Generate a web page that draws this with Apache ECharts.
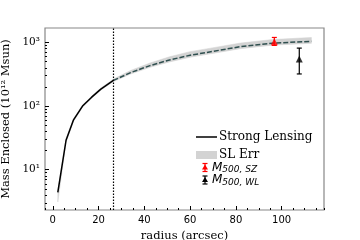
<!DOCTYPE html>
<html><head><meta charset="utf-8">
<script src="https://cdn.jsdelivr.net/npm/echarts@6/dist/echarts.min.js"></script>
<style>html,body{margin:0;padding:0;background:#fff}#c{width:360px;height:240px}</style>
</head><body><div id="c"></div>
<script>
// Strong lensing profile (inside the Einstein radius: solid)
const rInner = [2.2, 5.8, 9.0, 13.0, 17.0, 21.0, 26.5];
const mInner = [4.4, 29, 60, 100, 138, 185, 253];
// Extrapolated profile (dashed)
const rOuter = [26.5, 34, 42.5, 51, 60, 69, 82, 96, 113];
const mOuter = [253, 336, 433, 532, 630, 715, 860, 975, 1045];
// SL error band
const rBand    = [2.2, 5.8, 9.0, 13.0, 17.0, 21.0, 26.5, 34, 42.5, 51, 60, 69, 82, 96, 113];
const bandLow  = [3.1, 27, 57, 96, 133, 178, 243, 319, 407, 495, 586, 665, 800, 907, 972];
const bandHigh = [4.7, 31, 63, 104, 144, 193, 266, 363, 476, 596, 718, 815, 980, 1112, 1200];
// Einstein radius marker
const einsteinR = 26.5;
// M500 SZ: [radius, mass, low, high]
const szPoint = [96.8, 1030, 900, 1200];
// M500 WL
const wlPoint = [107.7, 548, 320, 816];
// ticks
const xMajorStep = 20;
const xMinorStep = 5;
const yMajor = [10, 100, 1000];
const yMinor = [3,4,5,6,7,8,9,20,30,40,50,60,70,80,90,200,300,400,500,600,700,800,900];

const zip = (a, b) => a.map((v, i) => [v, b[i]]);
const sup = {1:'¹',2:'²',3:'³'};

function errBar(color) {
  return function (params, api) {
    const x = api.value(0), lo = api.value(2), hi = api.value(3);
    const p1 = api.coord([x, lo]), p2 = api.coord([x, hi]);
    const w = 2.5, st = {stroke: color, lineWidth: 1.2};
    return {type: 'group', children: [
      {type: 'line', shape: {x1: p1[0], y1: p1[1], x2: p2[0], y2: p2[1]}, style: st},
      {type: 'line', shape: {x1: p1[0]-w, y1: p1[1], x2: p1[0]+w, y2: p1[1]}, style: st},
      {type: 'line', shape: {x1: p2[0]-w, y1: p2[1], x2: p2[0]+w, y2: p2[1]}, style: st}
    ]};
  };
}
function bandRender(params, api) {
  if (params.dataIndex !== 0) return null;
  const n = rBand.length, top = [], bot = [];
  for (let j = 0; j < n; j++) {
    const x = api.value(0, j);
    top.push(api.coord([x, api.value(2, j)]));
    bot.push(api.coord([x, api.value(1, j)]));
  }
  return {type: 'polygon', shape: {points: top.concat(bot.reverse())},
          style: {fill: '#d3d3d3', stroke: '#d3d3d3', lineWidth: 0.5}};
}

const chart = echarts.init(document.getElementById('c'), null, {renderer: 'canvas'});
const xMin = -3.4, xMax = 118.5, yMin = 2.32, yMax = 1690;
const tickStyle = {color: '#000', width: 1};
const noLine = {show: false, onZero: false};
const mText = (sub) => '{m|M}{s|' + sub + '}';
const mRich = {
  m: {fontFamily: 'DejaVu Sans', fontStyle: 'italic', fontSize: 12, color: '#000'},
  s: {fontFamily: 'DejaVu Sans', fontStyle: 'italic', fontSize: 9, color: '#000', padding: [5, 0, 0, 0]}
};
function legendMarker(cx, cy, color) {
  const st = {stroke: color, lineWidth: 1.2};
  return [
    {type: 'line', shape: {x1: cx, y1: cy-4, x2: cx, y2: cy+4}, style: st, z: 100},
    {type: 'line', shape: {x1: cx-2.5, y1: cy-4, x2: cx+2.5, y2: cy-4}, style: st, z: 100},
    {type: 'line', shape: {x1: cx-2.5, y1: cy+4, x2: cx+2.5, y2: cy+4}, style: st, z: 100},
    {type: 'polygon', shape: {points: [[cx, cy-3], [cx-3, cy+2], [cx+3, cy+2]]}, style: {fill: color}, z: 100}
  ];
}

chart.setOption({
  animation: false,
  backgroundColor: '#fff',
  grid: {left: 45, right: 36, top: 28, bottom: 30, show: true, borderColor: '#888', borderWidth: 1.2,
         outerBoundsMode: 'none', containLabel: false},
  xAxis: [
    {type: 'value', min: xMin, max: xMax, position: 'bottom',
     minInterval: xMajorStep, maxInterval: xMajorStep,
     axisLine: noLine, splitLine: {show: false},
     axisTick: {show: true, inside: false, length: -4, lineStyle: tickStyle},
     axisLabel: {showMinLabel: false, showMaxLabel: false, color: '#000',
       fontFamily: 'DejaVu Sans', fontSize: 10, margin: 5},
     name: 'radius (arcsec)', nameLocation: 'middle', nameGap: 16,
     nameTextStyle: {fontFamily: 'DejaVu Serif', fontSize: 11.5, color: '#000'}},
    {type: 'value', min: xMin, max: xMax, position: 'bottom',
     minInterval: xMinorStep, maxInterval: xMinorStep,
     axisLine: noLine, splitLine: {show: false}, axisLabel: {show: false},
     axisTick: {show: true, inside: false, length: -2, lineStyle: tickStyle}}
  ],
  yAxis: [
    {type: 'log', min: yMin, max: yMax, position: 'left',
     axisLine: noLine, splitLine: {show: false},
     axisTick: {show: true, customValues: yMajor, inside: true, length: 4, lineStyle: tickStyle},
     axisLabel: {customValues: yMajor, color: '#000', fontFamily: 'DejaVu Serif', fontSize: 10.5, margin: 5,
       formatter: v => '10' + sup[Math.round(Math.log10(v))]},
     name: 'Mass Enclosed (10¹² Msun)', nameLocation: 'middle', nameGap: 28,
     nameTextStyle: {fontFamily: 'DejaVu Serif', fontSize: 11.5, color: '#000'}},
    {type: 'log', min: yMin, max: yMax, position: 'left',
     axisLine: noLine, splitLine: {show: false}, axisLabel: {show: false},
     axisTick: {show: true, customValues: yMinor, inside: true, length: 2, lineStyle: tickStyle}}
  ],
  series: [
    {name: 'SL Err', type: 'custom', data: rBand.map((r, i) => [r, bandLow[i], bandHigh[i]]),
     renderItem: bandRender, encode: {x: 0, y: [1, 2]}, silent: true, z: 1},
    {name: 'Strong Lensing', type: 'line', data: zip(rInner, mInner), symbol: 'none',
     lineStyle: {color: '#000', width: 1.5}, z: 3,
     markLine: {silent: true, symbol: 'none', label: {show: false},
       lineStyle: {color: '#000', type: [1.5, 1.5], width: 1.2}, data: [{xAxis: einsteinR}]}},
    {name: 'SL extrap', type: 'line', data: zip(rOuter, mOuter), symbol: 'none',
     lineStyle: {color: '#2f4f4f', width: 1.5, type: [5, 2]}, z: 3},
    {name: 'SZ err', type: 'custom', data: [szPoint], renderItem: errBar('#ff0000'), encode: {x: 0, y: 1}, z: 4},
    {name: 'SZ', type: 'scatter', data: [[szPoint[0], szPoint[1]]], symbol: 'triangle', symbolSize: 7,
     itemStyle: {color: '#ff0000'}, z: 5},
    {name: 'WL err', type: 'custom', data: [wlPoint], renderItem: errBar('#000'), encode: {x: 0, y: 1}, z: 4},
    {name: 'WL', type: 'scatter', data: [[wlPoint[0], wlPoint[1]]], symbol: 'triangle', symbolSize: 7,
     itemStyle: {color: '#000'}, z: 5}
  ],
  graphic: [
    {type: 'line', shape: {x1: 196, y1: 137, x2: 217, y2: 137}, style: {stroke: '#000', lineWidth: 1.5}, z: 100},
    {type: 'text', x: 219, y: 137, style: {text: 'Strong Lensing', fontFamily: 'DejaVu Serif', fontSize: 12, fill: '#000', verticalAlign: 'middle'}, z: 100},
    {type: 'rect', shape: {x: 196, y: 151, width: 21, height: 8}, style: {fill: '#d3d3d3'}, z: 100},
    {type: 'text', x: 219, y: 155, style: {text: 'SL Err', fontFamily: 'DejaVu Serif', fontSize: 12, fill: '#000', verticalAlign: 'middle'}, z: 100},
    ...legendMarker(205, 167.5, '#ff0000'),
    {type: 'text', x: 212, y: 167.5, style: {text: mText('500, SZ'), rich: mRich, verticalAlign: 'middle'}, z: 100},
    ...legendMarker(205, 180, '#000'),
    {type: 'text', x: 212, y: 180, style: {text: mText('500, WL'), rich: mRich, verticalAlign: 'middle'}, z: 100}
  ]
});
</script></body></html>
